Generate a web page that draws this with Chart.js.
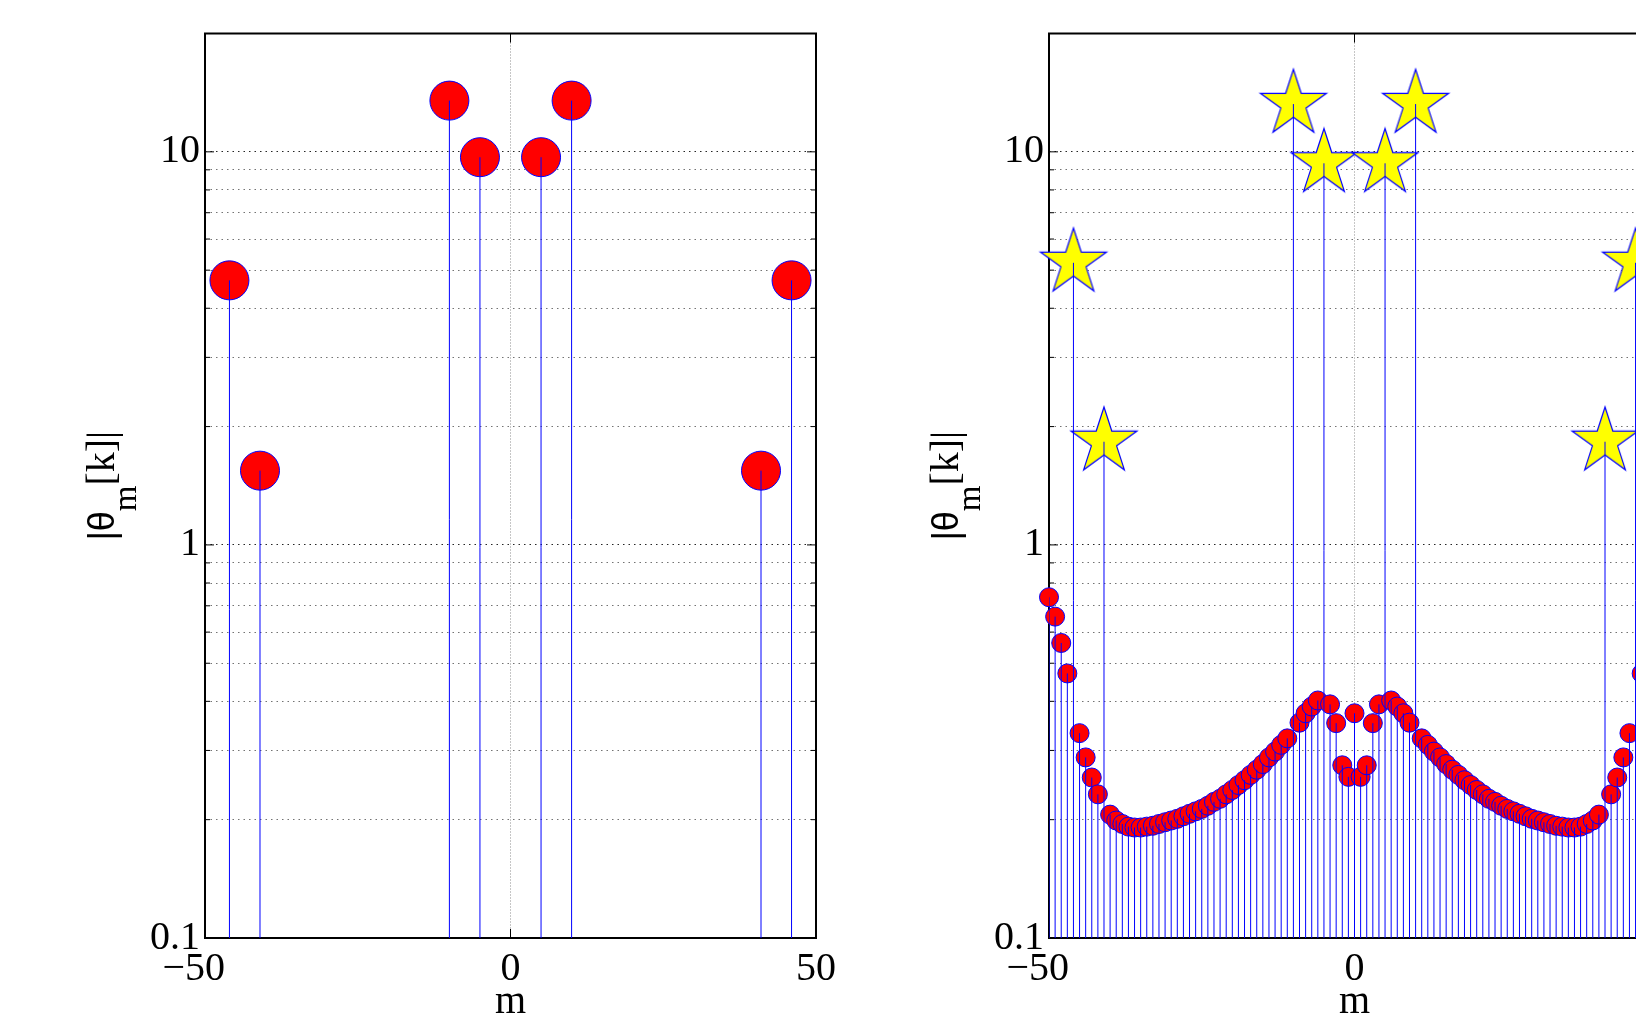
<!DOCTYPE html>
<html>
<head>
<meta charset="utf-8">
<script src="https://cdn.jsdelivr.net/npm/chart.js@4"></script>
<style>
  html, body { margin: 0; padding: 0; overflow: hidden; background: #fff; width: 1636px; height: 1018px; }
  canvas { position: absolute; top: 0; }
</style>
</head>
<body>
<canvas id="left" width="880" height="1018" style="left:0px"></canvas>
<canvas id="right" width="880" height="1018" style="left:844px"></canvas>
<script>
// peak positions (same on both panels)
const peakM = [-46, -41, -10, -5, 5, 10, 41, 46]
const leftPeakVals = [4.71, 1.545, 13.5, 9.69, 9.69, 13.5, 1.545, 4.71]
const starVals = [5.22, 1.83, 13.23, 9.35, 9.35, 13.23, 1.83, 5.22]

// right panel circles, m = -50..50 without the peak positions
const circleVals = [
  0.736, 0.657, 0.563, 0.471, 0.332, 0.288, 0.256, 0.232, 0.206, 0.199,
  0.195, 0.192, 0.191, 0.191, 0.192, 0.193, 0.195, 0.197, 0.199, 0.201,
  0.204, 0.207, 0.210, 0.213, 0.217, 0.222, 0.226, 0.232, 0.238, 0.245,
  0.252, 0.260, 0.268, 0.277, 0.288, 0.298, 0.310, 0.322, 0.353, 0.373,
  0.388, 0.402, 0.393, 0.352, 0.275, 0.257,
  0.373,
  0.257, 0.275, 0.352, 0.393, 0.402, 0.388, 0.373, 0.353, 0.322, 0.310,
  0.298, 0.288, 0.277, 0.268, 0.260, 0.252, 0.245, 0.238, 0.232, 0.226,
  0.222, 0.217, 0.213, 0.210, 0.207, 0.204, 0.201, 0.199, 0.197, 0.195,
  0.193, 0.192, 0.191, 0.191, 0.192, 0.195, 0.199, 0.206, 0.232, 0.256,
  0.288, 0.332, 0.471, 0.563, 0.657, 0.736
]
const circleM = []
for (let m = -50; m <= 50; m++) {
  if (!peakM.includes(m)) circleM.push(m)
}

const xTicks = [-50, 0, 50]
const yTicks = [0.1, 0.2, 0.3, 0.4, 0.5, 0.6, 0.7, 0.8, 0.9, 1, 2, 3, 4, 5, 6, 7, 8, 9, 10, 20]
const yLabelVals = [0.1, 1, 10]
const yLabelText = ['0.1', '1', '10']
const yMin = 0.1
const yMax = 20

const BLUE = '#0000ff'
const serif = 'Liberation Serif'

function points(ms, vs) {
  return ms.map((m, i) => ({ x: m, y: vs[i] }))
}

// each stem goes from the bottom of the axis up to the value, then a gap
function stems(ms, vs) {
  const out = []
  ms.forEach((m, i) => {
    out.push({ x: m, y: yMin }, { x: m, y: vs[i] }, { x: m, y: null })
  })
  return out
}

function pentagram(R) {
  const s = Math.ceil(R * 2 + 4)
  const c = document.createElement('canvas')
  c.width = s
  c.height = s
  const g = c.getContext('2d')
  const r = R * 0.382
  g.beginPath()
  for (let k = 0; k < 10; k++) {
    const rad = k % 2 === 0 ? R : r
    const a = -Math.PI / 2 + k * Math.PI / 5
    const px = s / 2 + rad * Math.cos(a)
    const py = s / 2 + rad * Math.sin(a)
    if (k === 0) g.moveTo(px, py)
    else g.lineTo(px, py)
  }
  g.closePath()
  g.fillStyle = '#ffff00'
  g.fill()
  g.strokeStyle = BLUE
  g.lineWidth = 1.2
  g.stroke()
  return c
}

function line(ctx, x1, y1, x2, y2) {
  ctx.beginPath()
  ctx.moveTo(x1, y1)
  ctx.lineTo(x2, y2)
  ctx.stroke()
}

// box, inside tick marks and the texts the way matlab draws them
const matlabAxes = {
  id: 'matlabAxes',
  beforeDatasetsDraw(chart) {
    const { ctx, chartArea: a, scales: { x, y } } = chart
    ctx.save()
    ctx.strokeStyle = '#000'
    ctx.lineWidth = 1
    yTicks.forEach(v => {
      const py = y.getPixelForValue(v)
      const len = yLabelVals.includes(v) ? 9 : 5
      line(ctx, a.left, py, a.left + len, py)
      line(ctx, a.right, py, a.right - len, py)
    })
    xTicks.forEach(v => {
      const px = x.getPixelForValue(v)
      line(ctx, px, a.bottom, px, a.bottom - 9)
      line(ctx, px, a.top, px, a.top + 9)
    })
    ctx.lineWidth = 2
    ctx.strokeRect(a.left, a.top, a.right - a.left, a.bottom - a.top)
    ctx.restore()
  },
  afterDraw(chart) {
    const { ctx, chartArea: a, scales: { x } } = chart
    ctx.save()
    ctx.fillStyle = '#000'
    ctx.textBaseline = 'alphabetic'
    ctx.font = '40px "' + serif + '"'
    ctx.textAlign = 'center'
    const minusW = ctx.measureText('\u2212').width
    xTicks.forEach(v => {
      const txt = v < 0 ? '\u2212' + Math.abs(v) : String(v)
      const px = x.getPixelForValue(v) - (v < 0 ? minusW / 2 : 0)
      ctx.fillText(txt, px, 980)
    })
    ctx.fillText('m', (a.left + a.right) / 2, 1013)

    // y title |θ_m[k]|
    const f1 = '36px "Liberation Sans"'
    const f2 = '33px "' + serif + '"'
    const f3 = '40px "' + serif + '"'
    ctx.font = f1
    const w1 = ctx.measureText('|\u03b8').width
    ctx.font = f2
    const w2 = ctx.measureText('m').width
    ctx.font = f3
    const w3 = ctx.measureText('[k]|').width
    const total = w1 + w2 + w3
    ctx.translate(a.left - 91, (a.top + a.bottom) / 2 + total / 2)
    ctx.rotate(-Math.PI / 2)
    ctx.textAlign = 'left'
    ctx.font = f1
    ctx.fillText('|\u03b8', 0, 0)
    ctx.font = f2
    ctx.fillText('m', w1, 22)
    ctx.font = f3
    ctx.fillText('[k]|', w1 + w2, 0)
    ctx.restore()
  }
}

function makeChart(id, datasets) {
  return new Chart(document.getElementById(id), {
    type: 'scatter',
    data: { datasets },
    options: {
      responsive: false,
      animation: false,
      devicePixelRatio: 1,
      events: [],
      layout: { autoPadding: false, padding: { left: 0, right: 64, top: 33.5, bottom: 0 } },
      plugins: { legend: { display: false }, tooltip: { enabled: false } },
      scales: {
        x: {
          type: 'linear',
          min: -50,
          max: 50,
          afterBuildTicks: s => { s.ticks = xTicks.map(v => ({ value: v })) },
          afterFit: s => { s.height = 80 },
          ticks: { display: false },
          grid: {
            drawTicks: false,
            lineWidth: 1,
            color: c => (c.tick && c.tick.value === 0) ? 'rgba(0,0,0,0.45)' : 'rgba(0,0,0,0)'
          },
          border: { display: false, dash: [1, 2] }
        },
        y: {
          type: 'logarithmic',
          min: yMin,
          max: yMax,
          afterBuildTicks: s => { s.ticks = yTicks.map(v => ({ value: v })) },
          afterFit: s => { s.width = 205 },
          ticks: {
            autoSkip: false,
            padding: 5,
            color: '#000',
            font: { family: serif, size: 40 },
            callback: v => {
              const i = yLabelVals.indexOf(v)
              return i >= 0 ? yLabelText[i] : ''
            }
          },
          grid: {
            drawTicks: false,
            lineWidth: 1,
            color: c => (c.tick && yLabelVals.includes(c.tick.value)) ? 'rgba(0,0,0,0.85)' : 'rgba(0,0,0,0.55)'
          },
          border: { display: false, dash: [1.5, 4] }
        }
      }
    },
    plugins: [matlabAxes]
  })
}

const stemStyle = {
  showLine: true,
  spanGaps: false,
  borderColor: BLUE,
  borderWidth: 1,
  pointRadius: 0
}

makeChart('left', [
  Object.assign({ data: stems(peakM, leftPeakVals) }, stemStyle),
  {
    data: points(peakM, leftPeakVals),
    pointRadius: 19.5,
    pointBorderWidth: 1,
    backgroundColor: '#ff0000',
    borderColor: BLUE,
    clip: false
  }
])

const star = pentagram(34.7)

makeChart('right', [
  Object.assign({ data: stems(peakM, starVals) }, stemStyle),
  Object.assign({ data: stems(circleM, circleVals) }, stemStyle),
  {
    data: points(peakM, starVals),
    pointStyle: star,
    pointRadius: 35,
    clip: false
  },
  {
    data: points(circleM, circleVals),
    pointRadius: 9.5,
    pointBorderWidth: 1,
    backgroundColor: '#ff0000',
    borderColor: BLUE,
    clip: false
  }
])
</script>
</body>
</html>
